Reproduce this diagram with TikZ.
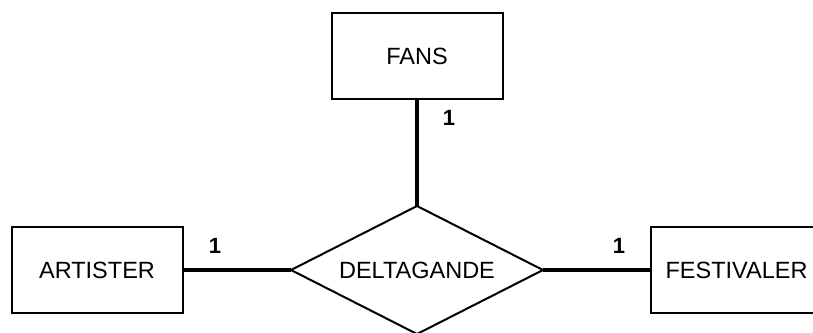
\documentclass[tikz,border=0pt]{standalone}
\usepackage{fontspec}
\setmainfont{Liberation Sans}
\usetikzlibrary{shapes.geometric}
\begin{document}
\begin{tikzpicture}[x=1pt,y=-1pt,
  entity/.style={draw,line width=2pt,minimum width=171pt,minimum height=86pt,inner sep=0pt,outer sep=0pt,font=\fontsize{23.5}{27}\selectfont},
  relation/.style={draw,diamond,shape aspect=1.96875,line width=2pt,minimum width=252pt,minimum height=128pt,inner sep=0pt,outer sep=0pt,font=\fontsize{23.5}{27}\selectfont},
  link/.style={line width=4pt},
  card/.style={font=\fontsize{22}{26}\selectfont\bfseries,inner sep=0pt}]
\useasboundingbox (0,0) rectangle (813,332);
\node[entity] (fans) at (417,56) {FANS};
\node[entity] (art) at (97,270) {ARTISTER};
\node[entity] (fest) at (736.5,270) {FESTIVALER};
\node[relation] (rel) at (417,270) {DELTAGANDE};
\draw[link] (fans.south) -- (rel.north);
\draw[link] (art.east) -- (rel.west);
\draw[link] (rel.east) -- (fest.west);
\node[card] (c1) at (449,118) {1};
\node[card] (c2) at (215,246) {1};
\node[card] (c3) at (619,246) {1};
\end{tikzpicture}
\end{document}
